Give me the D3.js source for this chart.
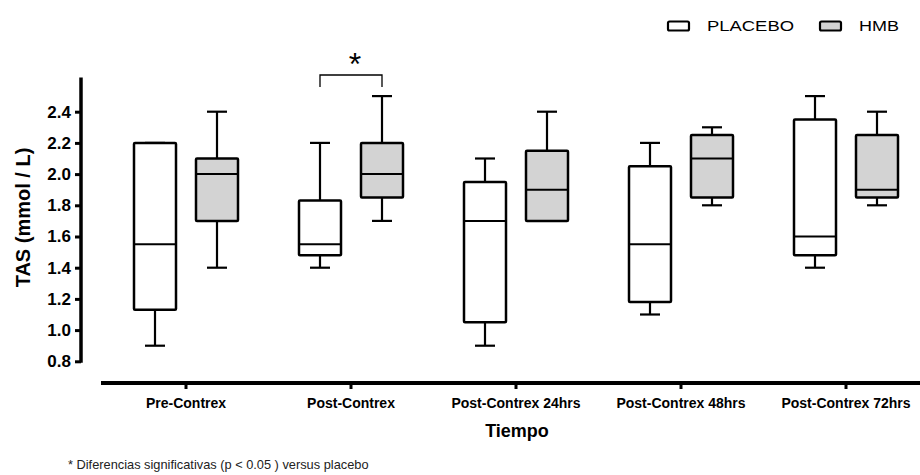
<!DOCTYPE html>
<html>
<head>
<meta charset="utf-8">
<script src="https://cdn.jsdelivr.net/npm/d3@7"></script>
<style>
  html, body { margin: 0; padding: 0; background: #fff; }
  svg { display: block; font-family: "Liberation Sans", Arial, sans-serif; }
</style>
</head>
<body>
<svg id="chart" width="920" height="475"></svg>
<script>
// Time points on the x axis
const categories = ["Pre-Contrex", "Post-Contrex", "Post-Contrex 24hrs", "Post-Contrex 48hrs", "Post-Contrex 72hrs"];

// Box summaries, PLACEBO group (mmol / L)
const placeboMin    = [0.90, 1.40, 0.90, 1.10, 1.40];
const placeboQ1     = [1.13, 1.48, 1.05, 1.18, 1.48];
const placeboMedian = [1.55, 1.55, 1.70, 1.55, 1.60];
const placeboQ3     = [2.20, 1.83, 1.95, 2.05, 2.35];
const placeboMax    = [2.20, 2.20, 2.10, 2.20, 2.50];

// Box summaries, HMB group (mmol / L)
const hmbMin    = [1.40, 1.70, 1.70, 1.80, 1.80];
const hmbQ1     = [1.70, 1.85, 1.70, 1.85, 1.85];
const hmbMedian = [2.00, 2.00, 1.90, 2.10, 1.90];
const hmbQ3     = [2.10, 2.20, 2.15, 2.25, 2.25];
const hmbMax    = [2.40, 2.50, 2.40, 2.30, 2.40];

const yTicks = [0.8, 1.0, 1.2, 1.4, 1.6, 1.8, 2.0, 2.2, 2.4];
const seriesNames = ["PLACEBO", "HMB"];
const seriesFill = ["#ffffff", "#d3d3d3"];
const significant = ["Post-Contrex"];

const svg = d3.select("#chart");

const x = d3.scaleBand().domain(categories).range([103.5, 928.5]).padding(0);
const y = d3.scaleLinear().domain([0.8, 2.4]).range([361.3, 111.7]);
const yTop = 2.62;

const boxW = 42, boxOff = 31, capW = 20;

function build(i, mins, q1s, meds, q3s, maxs) {
  return categories.map((c, k) => ({ cat: c, min: mins[k], q1: q1s[k], med: meds[k], q3: q3s[k], max: maxs[k], s: i }));
}
const groups = [
  build(0, placeboMin, placeboQ1, placeboMedian, placeboQ3, placeboMax),
  build(1, hmbMin, hmbQ1, hmbMedian, hmbQ3, hmbMax)
];

const cx = d => x(d.cat) + x.bandwidth() / 2 + (d.s === 0 ? -boxOff : boxOff);

const plot = svg.append("g");
groups.forEach(series => {
  const g = plot.selectAll(null).data(series).enter().append("g");
  // whiskers
  g.append("line")
    .attr("x1", cx).attr("x2", cx)
    .attr("y1", d => y(d.max)).attr("y2", d => y(d.min))
    .attr("stroke", "#000").attr("stroke-width", 2.2);
  g.append("line")
    .attr("x1", d => cx(d) - capW / 2).attr("x2", d => cx(d) + capW / 2)
    .attr("y1", d => y(d.max)).attr("y2", d => y(d.max))
    .attr("stroke", "#000").attr("stroke-width", 2.2);
  g.append("line")
    .attr("x1", d => cx(d) - capW / 2).attr("x2", d => cx(d) + capW / 2)
    .attr("y1", d => y(d.min)).attr("y2", d => y(d.min))
    .attr("stroke", "#000").attr("stroke-width", 2.2);
  // box
  g.append("rect")
    .attr("x", d => cx(d) - boxW / 2)
    .attr("y", d => y(d.q3))
    .attr("width", boxW)
    .attr("height", d => y(d.q1) - y(d.q3))
    .attr("rx", 1)
    .attr("fill", d => seriesFill[d.s])
    .attr("stroke", "#000").attr("stroke-width", 2.5);
  // median
  g.append("line")
    .attr("x1", d => cx(d) - boxW / 2).attr("x2", d => cx(d) + boxW / 2)
    .attr("y1", d => y(d.med)).attr("y2", d => y(d.med))
    .attr("stroke", "#000").attr("stroke-width", 2);
});

// Y axis
const yAxis = svg.append("g").attr("transform", "translate(81,0)")
  .call(d3.axisLeft(y).tickValues(yTicks).tickSize(6).tickPadding(4).tickFormat(d3.format(".1f")));
yAxis.select(".domain").remove();
yAxis.selectAll(".tick line").attr("stroke", "#000").attr("stroke-width", 3);
yAxis.selectAll(".tick text")
  .attr("fill", "#000").attr("font-size", 17).attr("font-weight", "bold")
  .attr("font-family", "'Liberation Sans', Arial, sans-serif");
svg.append("line")
  .attr("x1", 81).attr("x2", 81)
  .attr("y1", y(0.8) + 1.5).attr("y2", y(yTop))
  .attr("stroke", "#000").attr("stroke-width", 3.5);

// X axis
const xAxis = svg.append("g").attr("transform", "translate(0,383)")
  .call(d3.axisBottom(x).tickSize(6).tickPadding(9));
xAxis.select(".domain").remove();
xAxis.selectAll(".tick line").attr("stroke", "#000").attr("stroke-width", 3);
xAxis.selectAll(".tick text")
  .attr("fill", "#000").attr("font-size", 14).attr("font-weight", "bold")
  .attr("font-family", "'Liberation Sans', Arial, sans-serif");
svg.append("line")
  .attr("x1", 101).attr("x2", 920)
  .attr("y1", 383).attr("y2", 383)
  .attr("stroke", "#000").attr("stroke-width", 4);

// Axis titles
svg.append("text")
  .attr("x", 517).attr("y", 437)
  .attr("text-anchor", "middle")
  .attr("font-size", 18).attr("font-weight", "bold")
  .text("Tiempo");
svg.append("text")
  .attr("transform", "translate(30,217.5) rotate(-90)")
  .attr("text-anchor", "middle")
  .attr("font-size", 20).attr("font-weight", "bold")
  .text("TAS (mmol / L)");

// Significance bracket
significant.forEach(c => {
  const x0 = x(c) + x.bandwidth() / 2 - boxOff;
  const x1 = x(c) + x.bandwidth() / 2 + boxOff;
  svg.append("path")
    .attr("d", `M${x0},87V75H${x1}V87`)
    .attr("fill", "none").attr("stroke", "#000").attr("stroke-width", 1.3);
  svg.append("text")
    .attr("x", (x0 + x1) / 2 + 4).attr("y", 75)
    .attr("text-anchor", "middle")
    .attr("font-size", 32)
    .text("*");
});

// Legend
const legendX = [668, 820];
const legendW = [87, 40];
seriesNames.forEach((name, i) => {
  svg.append("rect")
    .attr("x", legendX[i]).attr("y", 21.5)
    .attr("width", 21).attr("height", 9)
    .attr("rx", 1.5)
    .attr("fill", seriesFill[i])
    .attr("stroke", "#000").attr("stroke-width", 2.2);
  svg.append("text")
    .attr("x", legendX[i] + 39).attr("y", 31)
    .attr("font-size", 15)
    .attr("textLength", legendW[i]).attr("lengthAdjust", "spacingAndGlyphs")
    .text(name);
});

// Footnote
svg.append("text")
  .attr("x", 68).attr("y", 469)
  .attr("font-size", 12.8)
  .attr("fill", "#222")
  .text("* Diferencias significativas (p < 0.05 ) versus placebo");
</script>
</body>
</html>
